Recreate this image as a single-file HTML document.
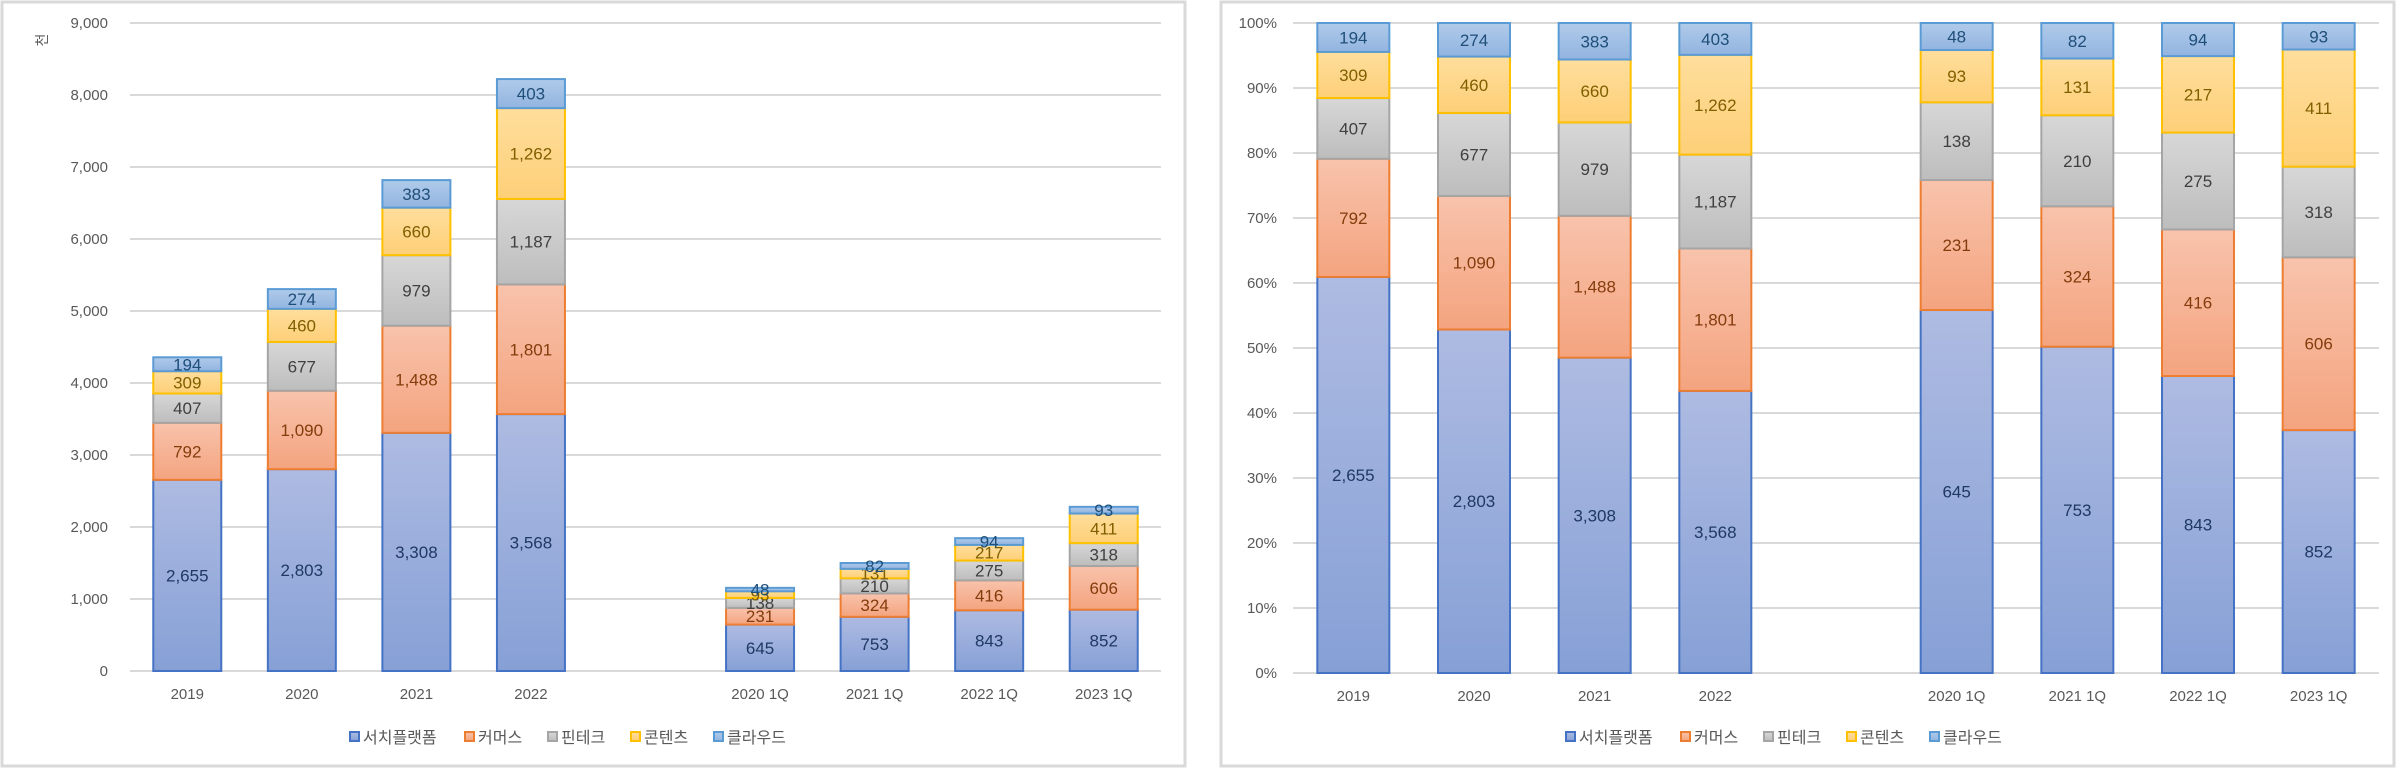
<!DOCTYPE html>
<html><head><meta charset="utf-8">
<style>
html,body{margin:0;padding:0;background:#fff;}
svg{display:block;font-family:"Liberation Sans","Noto Sans CJK KR",sans-serif;}
</style></head>
<body>
<svg id="c" width="2404" height="769">
<defs>
<linearGradient id="g0" x1="0" y1="0" x2="0" y2="1"><stop offset="0" stop-color="#aebbe2"/><stop offset="1" stop-color="#86a0d6"/></linearGradient>
<linearGradient id="g1" x1="0" y1="0" x2="0" y2="1"><stop offset="0" stop-color="#f8c3ac"/><stop offset="1" stop-color="#f4a47f"/></linearGradient>
<linearGradient id="g2" x1="0" y1="0" x2="0" y2="1"><stop offset="0" stop-color="#d7d7d7"/><stop offset="1" stop-color="#bdbdbd"/></linearGradient>
<linearGradient id="g3" x1="0" y1="0" x2="0" y2="1"><stop offset="0" stop-color="#ffde9c"/><stop offset="1" stop-color="#fdcf78"/></linearGradient>
<linearGradient id="g4" x1="0" y1="0" x2="0" y2="1"><stop offset="0" stop-color="#b0cbea"/><stop offset="1" stop-color="#92b4e0"/></linearGradient>
</defs>
<rect x="2" y="2" width="1183" height="764" fill="#fff" stroke="#d9d9d9" stroke-width="3"/>
<rect x="1221" y="2" width="1173" height="764" fill="#fff" stroke="#d9d9d9" stroke-width="3"/>
</svg>
<script>
const categories = ["2019","2020","2021","2022","","2020 1Q","2021 1Q","2022 1Q","2023 1Q"];
const seriesNames = ["서치플랫폼","커머스","핀테크","콘텐츠","클라우드"];
const searchPlatform = [2655,2803,3308,3568,null,645,753,843,852];
const commerce = [792,1090,1488,1801,null,231,324,416,606];
const fintech = [407,677,979,1187,null,138,210,275,318];
const contents = [309,460,660,1262,null,93,131,217,411];
const cloud = [194,274,383,403,null,48,82,94,93];
const leftTicks = [0,1000,2000,3000,4000,5000,6000,7000,8000,9000];
const rightTicks = [0,10,20,30,40,50,60,70,80,90,100];

const series = [searchPlatform, commerce, fintech, contents, cloud];
const borders = ["#4472c4","#ed7d31","#a5a5a5","#ffc000","#5b9bd5"];
const labelColors = ["#1f3864","#843c0c","#404040","#7f6000","#1f4e79"];
const NS = "http://www.w3.org/2000/svg";
const svg = document.getElementById("c");
function mk(tag, attrs, parent){const e=document.createElementNS(NS,tag);for(const k in attrs)e.setAttribute(k,attrs[k]);(parent||svg).appendChild(e);return e;}

function draw(cfg){
  const g = mk("g",{});
  
  
  const yScale = v => cfg.y0 - (v - cfg.min) / (cfg.max - cfg.min) * (cfg.y0 - cfg.yTop);
  const slot = (cfg.x1 - cfg.x0) / categories.length;
  const xCenter = i => cfg.x0 + slot * (i + 0.5);
  cfg.ticks.forEach(t => {
    const y = yScale(t);
    const l = mk("line",{x1:cfg.x0,x2:cfg.x1,y1:y,y2:y,stroke:"#d9d9d9","stroke-width":2},g);
    
    
    const tx = mk("text",{x:cfg.labelX,y:y+5,"text-anchor":"end","font-size":15,fill:"#595959"},g);
    tx.textContent = cfg.fmt(t);
    
    
  });
  categories.forEach((c, i) => {
    const tx = mk("text",{x:xCenter(i),y:cfg.y0+28,"text-anchor":"middle","font-size":15,fill:"#595959"},g);
    tx.textContent = c;
    
    
    if (searchPlatform[i] == null) return;
    let total = 0; series.forEach(s => total += s[i]);
    let acc = 0;
    series.forEach((s, k) => {
      const v = s[i];
      const a = cfg.pct ? acc / total * 100 : acc;
      const b = cfg.pct ? (acc + v) / total * 100 : acc + v;
      acc += v;
      const yA = yScale(a), yB = yScale(b);
      const r = mk("rect",{x:xCenter(i)-cfg.bw/2,y:yB,width:cfg.bw,height:yA-yB,fill:"url(#g"+k+")",stroke:borders[k],"stroke-width":2},g);
      
      
      const t = mk("text",{x:xCenter(i),y:(yA+yB)/2+6,"text-anchor":"middle","font-size":17,fill:labelColors[k]},g);
      t.textContent = v.toLocaleString("en-US");
      
      
    });
  });
  // legend
  let lx = cfg.legendX;
  seriesNames.forEach((n, k) => {
    const sw = mk("rect",{x:lx,y:cfg.legendY-11,width:9,height:9,fill:"url(#g"+k+")",stroke:borders[k],"stroke-width":2},g);
    
    
    const t = mk("text",{x:lx+13,y:cfg.legendY,"font-size":16,fill:"#595959"},g);
    t.textContent = n;
    
    
    lx += 13 + n.length * 16 + 22;
  });
}

draw({name:"absolute-stacked-chart",x0:130,x1:1161,y0:671,yTop:23,min:0,max:9000,ticks:leftTicks,
  fmt:t=>t.toLocaleString("en-US"),labelX:108,bw:68,pct:false,legendX:350,legendY:743});
draw({name:"percent-stacked-chart",x0:1293,x1:2379,y0:673,yTop:23,min:0,max:100,ticks:rightTicks,
  fmt:t=>t+"%",labelX:1277,bw:72,pct:true,legendX:1566,legendY:743});

const unit = mk("text",{x:0,y:0,"font-size":14,fill:"#595959",transform:"translate(47,40) rotate(-90)","text-anchor":"middle"});
unit.textContent = "천";


</script>
</body></html>
